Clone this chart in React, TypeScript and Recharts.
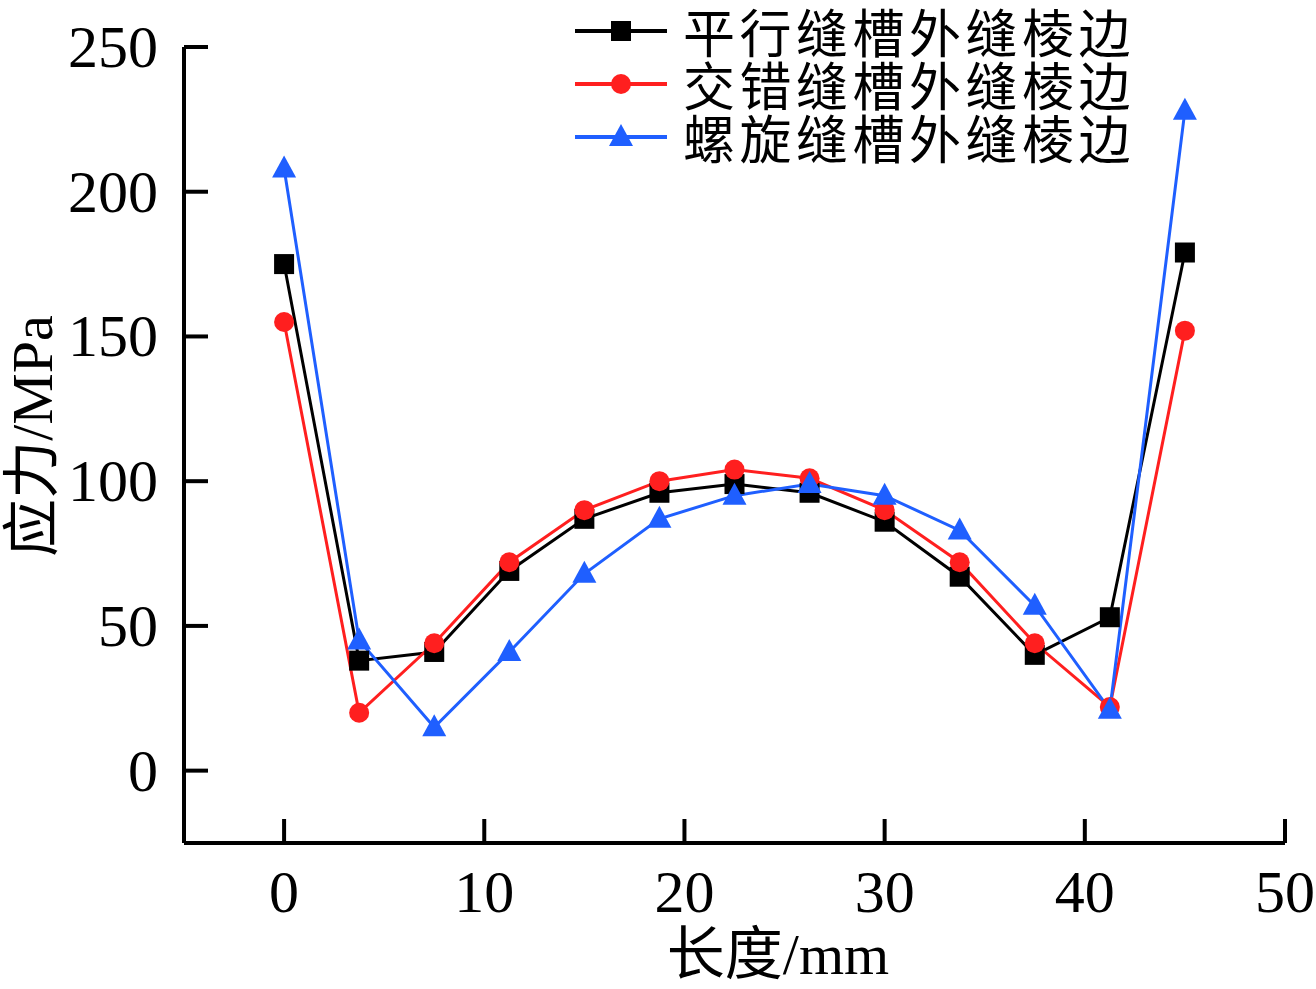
import { CartesianGrid, Line, LineChart, XAxis, YAxis } from 'recharts'

const lengths = [0, 3.75, 7.5, 11.25, 15, 18.75, 22.5, 26.25, 30, 33.75, 37.5, 41.25, 45]
const parallel = [175, 38, 41, 69, 87, 96, 99, 96, 86, 67, 40, 53, 179]
const staggered = [155, 20, 44, 72, 90, 100, 104, 101, 90, 72, 44, 22, 152]
const spiral = [208, 45, 15, 41, 68, 87, 95, 99, 95, 83, 57, 21, 228]

const xTicks = [0, 10, 20, 30, 40, 50]
const yTicks = [0, 50, 100, 150, 200, 250]

const series = [
  { key: 'parallel', name: '平行缝槽外缝棱边', color: '#000000', shape: 'square' },
  { key: 'staggered', name: '交错缝槽外缝棱边', color: '#ff1f1f', shape: 'circle' },
  { key: 'spiral', name: '螺旋缝槽外缝棱边', color: '#1f5fff', shape: 'triangle' },
]

const data = lengths.map((x, i) => ({
  x,
  parallel: parallel[i],
  staggered: staggered[i],
  spiral: spiral[i],
}))

const W = 1316
const H = 989
const PLOT_LEFT = 184
const PLOT_BOTTOM = 843
const SERIF = '"Liberation Serif", "Times New Roman", "Noto Sans CJK SC", serif'
const CJK = '"Noto Sans CJK SC", sans-serif'

function marker(shape: string, cx: number, cy: number, color: string, key?: string) {
  if (shape === 'square') {
    return <rect key={key} x={cx - 10} y={cy - 10} width={20} height={20} fill={color} />
  }
  if (shape === 'circle') {
    return <circle key={key} cx={cx} cy={cy} r={10} fill={color} />
  }
  return (
    <polygon
      key={key}
      points={`${cx},${cy - 13} ${cx - 12},${cy + 9} ${cx + 12},${cy + 9}`}
      fill={color}
    />
  )
}

function YTick({ y, payload }: any) {
  return (
    <g>
      <line x1={PLOT_LEFT} x2={PLOT_LEFT + 24} y1={y} y2={y} stroke="#000" strokeWidth={4} />
      <text x={158} y={y} textAnchor="end" dominantBaseline="central" fontSize={60} fontFamily={SERIF} fill="#000">
        {payload.value}
      </text>
    </g>
  )
}

function XTick({ x, payload }: any) {
  return (
    <g>
      <line x1={x} x2={x} y1={PLOT_BOTTOM} y2={PLOT_BOTTOM - 24} stroke="#000" strokeWidth={4} />
      <text x={x} y={912} textAnchor="middle" fontSize={60} fontFamily={SERIF} fill="#000">
        {payload.value}
      </text>
    </g>
  )
}

// legend sits over the plot in the top right, outside recharts so it doesn't eat plot space
function LegendBox() {
  return (
    <div style={{ position: 'absolute', left: 570, top: 4, whiteSpace: 'nowrap' }}>
      {series.map((s) => (
        <div key={s.key} style={{ display: 'flex', alignItems: 'center', height: 53 }}>
          <svg width={100} height={30} style={{ flex: 'none' }}>
            <line x1={5} x2={97} y1={15} y2={15} stroke={s.color} strokeWidth={4} />
            {marker(s.shape, 51, 15, s.color)}
          </svg>
          <span
            style={{
              marginLeft: 13,
              fontSize: 52,
              letterSpacing: 4.5,
              lineHeight: '53px',
              fontFamily: CJK,
              color: '#000',
            }}
          >
            {s.name}
          </span>
        </div>
      ))}
    </div>
  )
}

export default function App() {
  return (
    <div style={{ position: 'absolute', left: 0, top: 0, width: W, height: H, background: '#fff' }}>
      <LineChart width={W} height={H} data={data} margin={{ top: 47, right: 31, left: 0, bottom: 0 }}>
        <CartesianGrid stroke="none" />
        <XAxis
          dataKey="x"
          type="number"
          domain={[-5, 50]}
          ticks={xTicks}
          interval={0}
          height={146}
          axisLine={{ stroke: '#000', strokeWidth: 4 }}
          tickLine={false}
          tick={<XTick />}
        />
        <YAxis
          type="number"
          domain={[-25, 250]}
          ticks={yTicks}
          interval={0}
          width={184}
          axisLine={{ stroke: '#000', strokeWidth: 4 }}
          tickLine={false}
          tick={<YTick />}
        />
        {series.map((s) => (
          <Line
            key={s.key}
            dataKey={s.key}
            name={s.name}
            stroke={s.color}
            strokeWidth={3}
            isAnimationActive={false}
            dot={(p: any) => marker(s.shape, p.cx, p.cy, s.color, `${s.key}-${p.index}`)}
            activeDot={false}
          />
        ))}
      </LineChart>
      <LegendBox />
      <svg width={W} height={H} style={{ position: 'absolute', left: 0, top: 0, pointerEvents: 'none' }}>
        <text
          transform="translate(52, 436) rotate(-90)"
          textAnchor="middle"
          fontSize={58}
          fontFamily={SERIF}
          fill="#000"
        >
          应力/MPa
        </text>
        <text x={778} y={974} textAnchor="middle" fontSize={58} fontFamily={SERIF} fill="#000">
          长度/mm
        </text>
      </svg>
    </div>
  )
}
